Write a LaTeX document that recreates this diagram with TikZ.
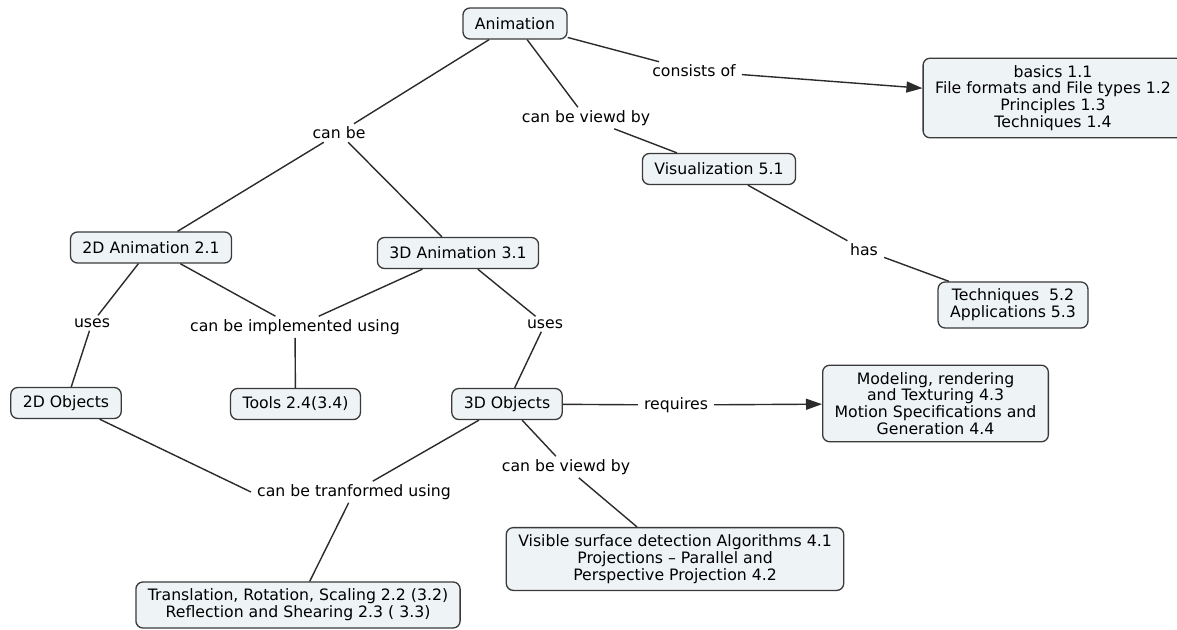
\documentclass[tikz,border=0pt]{standalone}
\usepackage{fontspec}
\setmainfont{DejaVu Sans}
\usepackage{tikz}
\usetikzlibrary{arrows.meta,positioning}
\definecolor{CmapFill}{HTML}{EEF3F6}
\definecolor{CmapLine}{HTML}{2B2B2B}
\definecolor{CmapEdge}{HTML}{3A3A3A}

\begin{document}
\begin{tikzpicture}[
  x=1pt,y=-1pt,
  concept/.style={draw=CmapEdge,fill=CmapFill,rounded corners=7pt,line width=1.3pt,align=center,inner xsep=12pt,inner ysep=7pt,minimum height=31pt,font=\fontsize{15.7}{16.8}\selectfont},
  linkword/.style={inner xsep=6pt,inner ysep=3pt,font=\fontsize{15.7}{16.8}\selectfont},
  conn/.style={draw=CmapLine,line width=1.4pt},
  toarrow/.style={conn,-{Triangle[length=16pt,width=11pt]}},
]
\useasboundingbox (0,0) rectangle (1177,629);
\fill[white] (0,0) rectangle (1177,629);

% concepts and linking words
\node[concept] (anim) at (515,23.5) {Animation};
\node[linkword] (cons) at (694,71) {consists of};
\node[concept] (basics) at (1053,98) {basics 1.1\\File formats and File types 1.2\\Principles 1.3\\Techniques 1.4};
\node[linkword] (viewd) at (586,118) {can be viewd by};
\node[concept] (vis) at (719,169) {Visualization 5.1};
\node[linkword] (has) at (864,250) {has};
\node[concept] (tech) at (1013,305) {Techniques\ \ 5.2\\Applications 5.3};
\node[linkword] (canbe) at (339,133) {can be};
\node[concept] (anim2d) at (151,247.5) {2D Animation 2.1};
\node[concept] (anim3d) at (458,253) {3D Animation 3.1};
\node[linkword] (uses2d) at (92,323) {uses};
\node[linkword] (impl) at (295,327) {can be implemented using};
\node[linkword] (uses3d) at (545,324) {uses};
\node[concept] (obj2d) at (66,403) {2D Objects};
\node[concept] (tools) at (295.5,404) {Tools 2.4(3.4)};
\node[concept] (obj3d) at (507,404) {3D Objects};
\node[linkword] (req) at (676,405) {requires};
\node[concept] (model) at (935.5,403.5) {Modeling, rendering\\and Texturing 4.3\\Motion Specifications and\\Generation 4.4};
\node[linkword] (transf) at (354,492) {can be tranformed using};
\node[linkword] (viewd3d) at (566,467) {can be viewd by};
\node[concept] (trans) at (298,605) {Translation, Rotation, Scaling 2.2 (3.2)\\Reflection and Shearing 2.3 ( 3.3)};
\node[concept] (visible) at (675,559) {Visible surface detection Algorithms 4.1\\Projections -- Parallel and\\Perspective Projection 4.2};

% connectors
\draw[conn] (anim) -- (cons);
\draw[toarrow] (cons) -- (basics);
\draw[conn] (anim) -- (viewd);
\draw[conn] (viewd) -- (vis);
\draw[conn] (vis) -- (has);
\draw[conn] (has) -- (tech);
\draw[conn] (anim) -- (canbe);
\draw[conn] (canbe) -- (anim2d);
\draw[conn] (canbe) -- (anim3d);
\draw[conn] (anim2d) -- (uses2d);
\draw[conn] (uses2d) -- (obj2d);
\draw[conn] (anim2d) -- (impl);
\draw[conn] (anim3d) -- (impl);
\draw[conn] (impl) -- (tools);
\draw[conn] (anim3d) -- (uses3d);
\draw[conn] (uses3d) -- (obj3d);
\draw[conn] (obj3d) -- (req);
\draw[toarrow] (req) -- (model);
\draw[conn] (obj2d) -- (transf.west);
\draw[conn] (obj3d) -- (transf);
\draw[conn] (transf) -- (trans);
\draw[conn] (obj3d) -- (viewd3d);
\draw[conn] (viewd3d) -- (visible);
\end{tikzpicture}
\end{document}
